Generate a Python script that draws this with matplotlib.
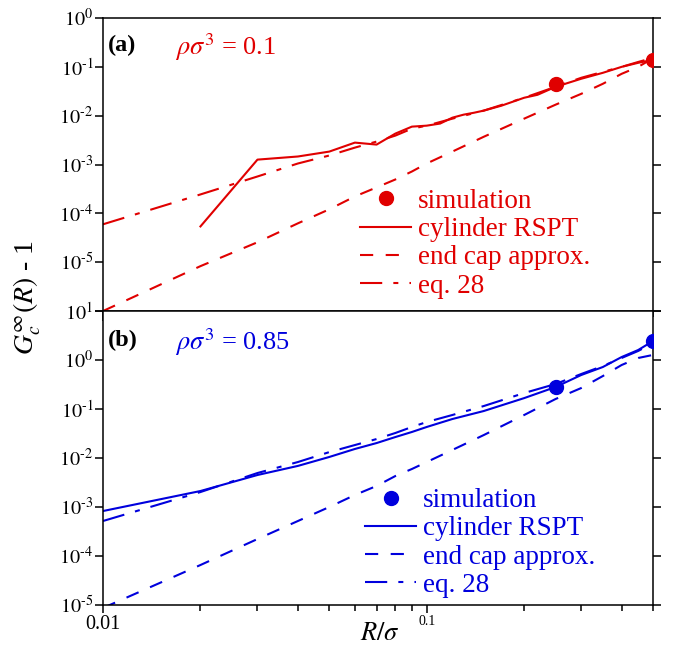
import matplotlib.pyplot as plt
from matplotlib.ticker import NullFormatter, NullLocator

plt.rcParams['font.family'] = ['Liberation Serif', 'DejaVu Serif']
plt.rcParams['mathtext.fontset'] = 'stix'
plt.rcParams['lines.scale_dashes'] = False

RED = '#e00000'
BLUE = '#0000dd'

# R/sigma grid shared by most theory curves
r_grid = [0.01, 0.02, 0.03, 0.04, 0.05, 0.06, 0.07, 0.08, 0.09, 0.1,
          0.12, 0.15, 0.2, 0.25, 0.3, 0.35, 0.4, 0.45, 0.5]

# --- (a) rho sigma^3 = 0.1 ---
r_sim_a = [0.25, 0.5]
g_sim_a = [0.045, 0.139]

r_cyl_a = [0.02, 0.03, 0.04, 0.05, 0.06, 0.07, 0.08, 0.09, 0.1, 0.11, 0.12,
           0.13, 0.14, 0.15, 0.17, 0.2, 0.22, 0.25, 0.3, 0.35, 0.4, 0.45, 0.5]
g_cyl_a = [5.4e-5, 1.26e-3, 1.46e-3, 1.84e-3, 2.81e-3, 2.56e-3, 4.3e-3,
           5.97e-3, 6.25e-3, 6.9e-3, 9.1e-3, 0.0105, 0.0115, 0.0127, 0.016,
           0.0233, 0.0268, 0.039, 0.057, 0.0755, 0.1, 0.121, 0.139]

g_cap_a = [1.0e-6, 8.3e-6, 2.56e-5, 6.25e-5, 1.21e-4, 2.22e-4, 3.4e-4,
           4.94e-4, 7.2e-4, 1.05e-3, 1.84e-3, 3.7e-3, 8.7e-3, 0.0168,
           0.028, 0.045, 0.072, 0.1, 0.15]

g_eq28_a = [5.97e-5, 2.44e-4, 5.69e-4, 1.05e-3, 1.53e-3, 2.22e-3, 2.95e-3,
            3.91e-3, 5.43e-3, 6.25e-3, 8.69e-3, 0.0127, 0.0233, 0.039,
            0.0597, 0.079, 0.1, 0.126, 0.153]

# --- (b) rho sigma^3 = 0.85 ---
r_sim_b = [0.25, 0.5]
g_sim_b = [0.281, 2.44]

g_cyl_b = [8.28e-4, 2.12e-3, 4.5e-3, 6.9e-3, 0.0105, 0.0153, 0.0202, 0.0268,
           0.034, 0.043, 0.0625, 0.091, 0.167, 0.281, 0.494, 0.72, 1.15,
           1.6, 2.44]

g_cap_b = [8.7e-6, 6.55e-5, 2.22e-4, 5.18e-4, 1.0e-3, 1.76e-3, 2.69e-3,
           4.29e-3, 5.97e-3, 8.28e-3, 0.0146, 0.0294, 0.0755, 0.16, 0.268,
           0.471, 0.791, 1.1, 1.27]

g_eq28_b = [5.18e-4, 2.02e-3, 4.94e-3, 8.28e-3, 0.0132, 0.0184, 0.0244,
            0.0324, 0.043, 0.0543, 0.0755, 0.115, 0.212, 0.324, 0.518,
            0.755, 1.1, 1.53, 2.22]

yticks_a = [1e0, 1e-1, 1e-2, 1e-3, 1e-4, 1e-5, 1e-6]
ylabels_a = [r'$10^{0}$', r'$10^{\text{-}1}$', r'$10^{\text{-}2}$',
             r'$10^{\text{-}3}$', r'$10^{\text{-}4}$', r'$10^{\text{-}5}$', '']
yticks_b = [1e1, 1e0, 1e-1, 1e-2, 1e-3, 1e-4, 1e-5]
ylabels_b = [r'$10^{1}$', r'$10^{0}$', r'$10^{\text{-}1}$', r'$10^{\text{-}2}$',
             r'$10^{\text{-}3}$', r'$10^{\text{-}4}$', r'$10^{\text{-}5}$']

DASHED = (0, (9.5, 9.0))
DASHDOT = (0, (16, 8, 3.6, 8))

fig = plt.figure(figsize=(6.79, 6.53), dpi=100)
ax_a = fig.add_axes([0.1517, 0.5237, 0.81, 0.4487])
ax_b = fig.add_axes([0.1517, 0.0735, 0.81, 0.4502])


def draw_panel(ax, color, r_cyl, g_cyl, g_cap, g_eq28, r_sim, g_sim):
    ax.plot(r_sim, g_sim, 'o', color=color, markersize=10, zorder=5,
            label='simulation')
    ax.plot(r_cyl, g_cyl, '-', color=color, lw=1.5, label='cylinder RSPT')
    ax.plot(r_grid, g_cap, color=color, lw=1.5, linestyle=DASHED,
            label='end cap approx.')
    ax.plot(r_grid, g_eq28, color=color, lw=1.5, linestyle=DASHDOT,
            label='eq. 28')
    ax.set_xscale('log')
    ax.set_yscale('log')
    ax.set_xlim(0.01, 0.5)
    ax.yaxis.set_minor_locator(NullLocator())
    ax.xaxis.set_minor_formatter(NullFormatter())
    ax.tick_params(axis='y', which='major', direction='out', length=6,
                   width=1.1, left=True, right=True, labelright=False,
                   labelsize=14.5, pad=1)
    for s in ax.spines.values():
        s.set_linewidth(1.1)


draw_panel(ax_a, RED, r_cyl_a, g_cyl_a, g_cap_a, g_eq28_a, r_sim_a, g_sim_a)
draw_panel(ax_b, BLUE, r_grid, g_cyl_b, g_cap_b, g_eq28_b, r_sim_b, g_sim_b)

ax_a.set_ylim(1e-6, 1e0)
ax_a.set_yticks(yticks_a, ylabels_a)
ax_a.set_xticks([0.01, 0.1], ['', ''])
ax_a.tick_params(axis='x', which='major', direction='out', length=7,
                 width=1.1, labelbottom=False)
ax_a.tick_params(axis='x', which='minor', direction='out', length=4.5,
                 width=1.1)

ax_b.set_ylim(1e-5, 1e1)
ax_b.set_yticks(yticks_b, ylabels_b)
ax_b.set_xticks([0.01, 0.1], ['0.01', '0.1'])
ax_b.tick_params(axis='x', which='major', direction='out', length=5.5,
                 width=1.1, pad=2)
ax_b.tick_params(axis='x', which='minor', direction='out', length=4,
                 width=1.1)
xl = ax_b.get_xticklabels()
xl[0].set_fontsize(14.5)
xl[1].set_fontsize(10)

ax_a.text(0.009, 0.908, '(a)', transform=ax_a.transAxes, fontsize=17.5,
          fontweight='bold', va='center')
ax_a.text(0.131, 0.901, r'$\rho\sigma^{3}$ = 0.1', transform=ax_a.transAxes,
          fontsize=19, color=RED, va='center')
ax_b.text(0.009, 0.901, '(b)', transform=ax_b.transAxes, fontsize=17.5,
          fontweight='bold', va='center')
ax_b.text(0.131, 0.895, r'$\rho\sigma^{3}$ = 0.85', transform=ax_b.transAxes,
          fontsize=19, color=BLUE, va='center')

for ax, color, anchor in [(ax_a, RED, (0.467, 0.417)),
                          (ax_b, BLUE, (0.476, 0.398))]:
    leg = ax.legend(loc='upper left', bbox_to_anchor=anchor, frameon=False,
                    fontsize=19.5, handlelength=1.9, handletextpad=0.25,
                    labelspacing=0.12, borderpad=0, borderaxespad=0,
                    numpoints=1)
    for t in leg.get_texts():
        t.set_color(color)

fig.text(0.041, 0.545, r'$G_c^{\infty}(R)$ - 1', rotation=90, fontsize=20,
         ha='center', va='center')
fig.text(0.56, 0.029, r'$R/\sigma$', fontsize=19, ha='center', va='center')

fig.savefig('out.png', dpi=100)
